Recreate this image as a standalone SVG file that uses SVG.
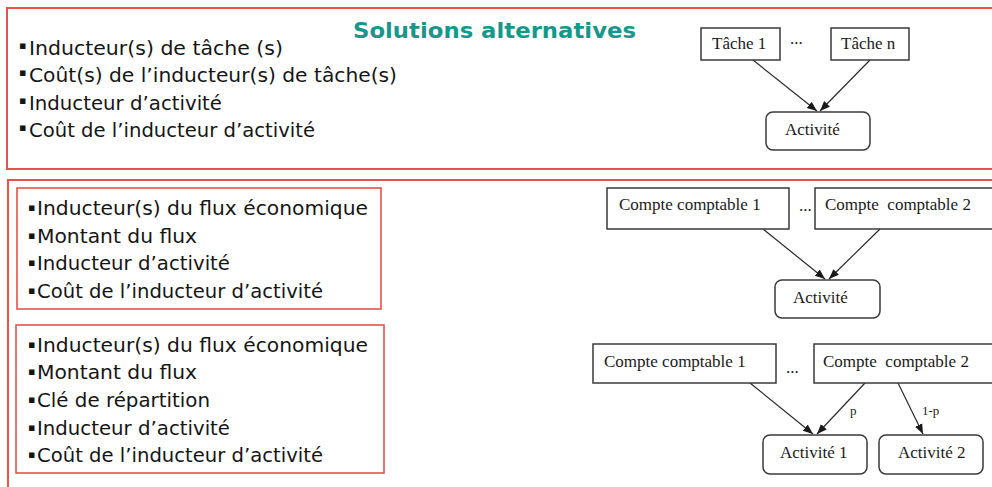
<svg xmlns="http://www.w3.org/2000/svg" width="992" height="487" viewBox="0 0 992 487">
<style>
.frame{fill:none;stroke:#e5534b;stroke-width:2}
.inner{fill:none;stroke:#e5534b;stroke-width:1.6}
.t{font-family:"DejaVu Sans",Verdana,sans-serif;font-size:20px;fill:#151515}
.b{font-family:"DejaVu Sans",Verdana,sans-serif;font-size:11px;fill:#151515}
.title{font-family:"DejaVu Sans",Verdana,sans-serif;font-size:22px;font-weight:bold;fill:#17978b}
.box{fill:#fff;stroke:#3a3a3a;stroke-width:1.5}
.lbl{font-family:"Liberation Serif","Times New Roman",serif;font-size:17px;fill:#1a1a1a}
.small{font-family:"Liberation Serif","Times New Roman",serif;font-size:13px;fill:#1a1a1a}
.conn{stroke:#2a2a2a;stroke-width:1.2;fill:none;marker-end:url(#ah)}
</style>
<defs>
<marker id="ah" markerUnits="userSpaceOnUse" markerWidth="10" markerHeight="10" viewBox="0 0 10 10" refX="10" refY="5" orient="auto">
<path d="M0,1 L10,5 L0,9 z" fill="#1a1a1a"/>
</marker>
</defs>
<rect width="992" height="487" fill="#fff"/>

<g id="frame-top">
<rect class="frame" x="7" y="8" width="1000" height="161"/>
<text class="title" x="353" y="38" textLength="283" lengthAdjust="spacingAndGlyphs">Solutions alternatives</text>
<text class="b" x="19" y="49">▪</text>
<text class="t" x="29" y="55" textLength="254" lengthAdjust="spacingAndGlyphs">Inducteur(s) de tâche (s)</text>
<text class="b" x="19" y="76">▪</text>
<text class="t" x="29" y="82" textLength="368" lengthAdjust="spacingAndGlyphs">Coût(s) de l’inducteur(s) de tâche(s)</text>
<text class="b" x="19" y="104">▪</text>
<text class="t" x="29" y="110" textLength="193" lengthAdjust="spacingAndGlyphs">Inducteur d’activité</text>
<text class="b" x="19" y="131">▪</text>
<text class="t" x="29" y="137" textLength="286" lengthAdjust="spacingAndGlyphs">Coût de l’inducteur d’activité</text>
</g>

<g id="frame-bottom">
<rect class="frame" x="8" y="180" width="1000" height="320"/>
</g>

<g id="list-1">
<rect class="inner" x="17" y="188" width="364" height="121"/>
<text class="b" x="28" y="211">▪</text>
<text class="t" x="37" y="215" textLength="331" lengthAdjust="spacingAndGlyphs">Inducteur(s) du flux économique</text>
<text class="b" x="28" y="239">▪</text>
<text class="t" x="37" y="243" textLength="160" lengthAdjust="spacingAndGlyphs">Montant du flux</text>
<text class="b" x="28" y="266">▪</text>
<text class="t" x="37" y="270" textLength="193" lengthAdjust="spacingAndGlyphs">Inducteur d’activité</text>
<text class="b" x="28" y="294">▪</text>
<text class="t" x="37" y="298" textLength="286" lengthAdjust="spacingAndGlyphs">Coût de l’inducteur d’activité</text>
</g>

<g id="list-2">
<rect class="inner" x="16" y="325" width="368" height="148"/>
<text class="b" x="28" y="348">▪</text>
<text class="t" x="37" y="352" textLength="331" lengthAdjust="spacingAndGlyphs">Inducteur(s) du flux économique</text>
<text class="b" x="28" y="375">▪</text>
<text class="t" x="37" y="379" textLength="160" lengthAdjust="spacingAndGlyphs">Montant du flux</text>
<text class="b" x="28" y="403">▪</text>
<text class="t" x="37" y="407" textLength="173" lengthAdjust="spacingAndGlyphs">Clé de répartition</text>
<text class="b" x="28" y="431">▪</text>
<text class="t" x="37" y="435" textLength="193" lengthAdjust="spacingAndGlyphs">Inducteur d’activité</text>
<text class="b" x="28" y="458">▪</text>
<text class="t" x="37" y="462" textLength="286" lengthAdjust="spacingAndGlyphs">Coût de l’inducteur d’activité</text>
</g>

<g id="connectors">
<line class="conn" x1="753" y1="60" x2="817" y2="111"/>
<line class="conn" x1="870" y1="60" x2="820" y2="111"/>
<line class="conn" x1="763" y1="229" x2="825" y2="279"/>
<line class="conn" x1="880" y1="229" x2="829" y2="279"/>
<line class="conn" x1="750" y1="383" x2="813" y2="434"/>
<line class="conn" x1="865" y1="383" x2="817" y2="434"/>
<line class="conn" x1="898" y1="383" x2="923" y2="434"/>
<text class="small" x="850" y="415">p</text>
<text class="small" x="922" y="415">1-p</text>
</g>

<g id="tache-1">
<rect class="box" x="701" y="28" width="79" height="32"/>
<text class="lbl" x="712" y="49" font-size="16">Tâche 1</text>
</g>
<g id="dots-1"><text class="lbl" x="790" y="44">...</text></g>
<g id="tache-n">
<rect class="box" x="831" y="28" width="78" height="32"/>
<text class="lbl" x="841" y="49" font-size="16">Tâche n</text>
</g>
<g id="activite-a">
<rect class="box" x="766" y="112" width="104" height="38" rx="7"/>
<text class="lbl" x="785" y="135" font-size="16">Activité</text>
</g>

<g id="compte-1a">
<rect class="box" x="607" y="188" width="182" height="41"/>
<text class="lbl" x="619" y="210">Compte comptable 1</text>
</g>
<g id="dots-2"><text class="lbl" x="799" y="211">...</text></g>
<g id="compte-2a">
<rect class="box" x="815" y="188" width="190" height="41"/>
<text class="lbl" x="825" y="210">Compte&#160; comptable 2</text>
</g>
<g id="activite-b">
<rect class="box" x="775" y="280" width="105" height="38" rx="7"/>
<text class="lbl" x="793" y="303" font-size="16">Activité</text>
</g>

<g id="compte-1b">
<rect class="box" x="593" y="344" width="183" height="39"/>
<text class="lbl" x="604" y="367">Compte comptable 1</text>
</g>
<g id="dots-3"><text class="lbl" x="786" y="373">...</text></g>
<g id="compte-2b">
<rect class="box" x="814" y="344" width="190" height="39"/>
<text class="lbl" x="823" y="367">Compte&#160; comptable 2</text>
</g>
<g id="activite-1">
<rect class="box" x="763" y="435" width="104" height="39" rx="7"/>
<text class="lbl" x="780" y="458" font-size="16">Activité 1</text>
</g>
<g id="activite-2">
<rect class="box" x="879" y="435" width="104" height="39" rx="7"/>
<text class="lbl" x="898" y="458" font-size="16">Activité 2</text>
</g>
</svg>
